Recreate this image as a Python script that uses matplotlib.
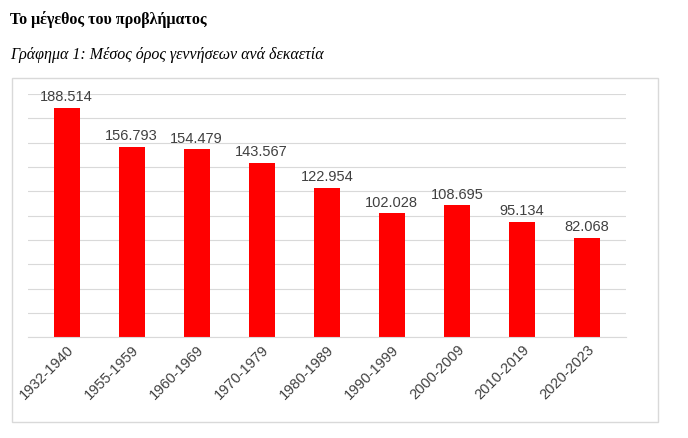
import matplotlib.pyplot as plt
from matplotlib.patches import Rectangle

decades = ['1932-1940', '1955-1959', '1960-1969', '1970-1979', '1980-1989',
           '1990-1999', '2000-2009', '2010-2019', '2020-2023']
births = [188.514, 156.793, 154.479, 143.567, 122.954, 102.028, 108.695, 95.134, 82.068]
value_labels = ['188.514', '156.793', '154.479', '143.567', '122.954',
                '102.028', '108.695', '95.134', '82.068']

fig = plt.figure(figsize=(6.88, 4.38), dpi=100)
fig.text(0.015, 0.945, 'Το μέγεθος του προβλήματος', family='Liberation Serif',
         weight='bold', fontsize=11.5)
fig.text(0.015, 0.865, 'Γράφημα 1: Μέσος όρος γεννήσεων ανά δεκαετία',
         family='Liberation Serif', style='italic', fontsize=11.5)

# chart frame
fig.patches.append(Rectangle((0.017, 0.036), 0.94, 0.785, transform=fig.transFigure,
                             fill=False, edgecolor='#d9d9d9', lw=1))

ax = fig.add_axes([0.04, 0.23, 0.87, 0.555])
x = range(len(decades))
ax.bar(x, births, width=0.4, color='#ff0000')
for xi, v, t in zip(x, births, value_labels):
    ax.text(xi, v + 3, t, ha='center', va='bottom', fontsize=10.5,
            color='#404040', family='Liberation Sans')

ax.set_ylim(0, 200)
ax.set_xlim(-0.6, len(decades) - 0.4)
ax.set_yticks(range(0, 201, 20))
ax.yaxis.grid(True, color='#d9d9d9', lw=0.8)
ax.set_axisbelow(True)
ax.tick_params(axis='y', left=False, labelleft=False)
ax.tick_params(axis='x', length=0, pad=4)
ax.set_xticks(list(x))
ax.set_xticklabels(decades, rotation=45, ha='right', rotation_mode='anchor',
                   fontsize=10.5, color='#404040', family='Liberation Sans')
for s in ['top', 'right', 'left']:
    ax.spines[s].set_visible(False)
ax.spines['bottom'].set_color('#d9d9d9')

fig.savefig('out.png', dpi=100)
